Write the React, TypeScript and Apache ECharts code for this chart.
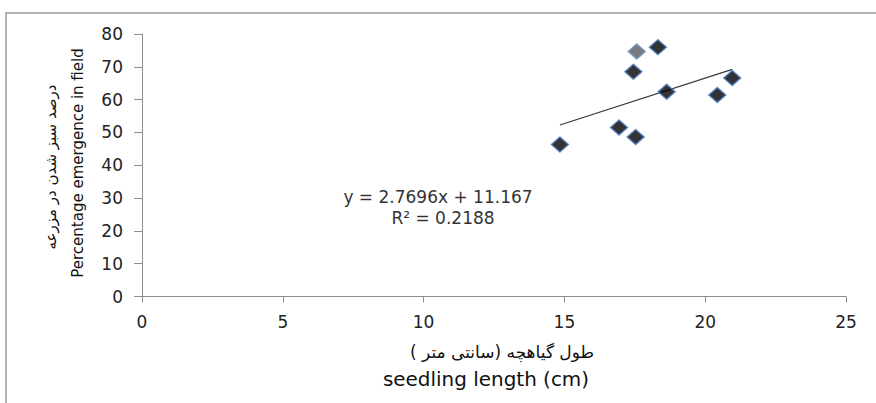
import React, { useEffect, useRef } from "react";
import * as echarts from "echarts";

const seedlingLength = [14.84, 16.94, 17.53, 17.45, 17.57, 18.32, 18.63, 20.43, 20.96];
const emergence = [46.3, 51.5, 48.6, 68.5, 74.7, 76.0, 62.4, 61.4, 66.6];
const greyPointIndex = [4];
const trendSlope = 2.7696;
const trendIntercept = 11.167;
const rSquared = 0.2188;
const xTicks = [0, 5, 10, 15, 20, 25];
const yTicks = [0, 10, 20, 30, 40, 50, 60, 70, 80];

const xTitleFa = "طول گیاهچه (سانتی متر )";
const xTitleEn = "seedling length (cm)";
const yTitleFa = "درصد سبز شدن در مزرعه";
const yTitleEn = "Percentage emergence in field";

export default function App() {
  const ref = useRef<HTMLDivElement>(null);
  useEffect(() => {
    if (!ref.current) return;
    const chart = echarts.init(ref.current, null, { renderer: "svg" });
    const xMin = Math.min(...seedlingLength);
    const xMax = Math.max(...seedlingLength);
    const font = "DejaVu Sans";
    const option: any = {
      animation: false,
      backgroundColor: "#ffffff",
      grid: { left: 142, right: 30, top: 34, bottom: 106.5 },
      xAxis: {
        type: "value",
        min: xTicks[0],
        max: xTicks[xTicks.length - 1],
        interval: 5,
        splitLine: { show: false },
        axisLine: { show: true, onZero: false, lineStyle: { color: "#8c8c8c", width: 1 } },
        axisTick: { show: true, length: 6, lineStyle: { color: "#8c8c8c" } },
        axisLabel: { color: "#222", fontFamily: font, fontSize: 17, margin: 17 },
      },
      yAxis: {
        type: "value",
        min: yTicks[0],
        max: yTicks[yTicks.length - 1],
        interval: 10,
        splitLine: { show: false },
        axisLine: { show: true, onZero: false, lineStyle: { color: "#8c8c8c", width: 1 } },
        axisTick: { show: true, length: 8, lineStyle: { color: "#8c8c8c" } },
        axisLabel: { color: "#222", fontFamily: font, fontSize: 17, margin: 19 },
      },
      series: [
        {
          type: "line",
          data: [
            [xMin, trendSlope * xMin + trendIntercept],
            [xMax, trendSlope * xMax + trendIntercept],
          ],
          showSymbol: false,
          symbol: "none",
          lineStyle: { color: "#3a3a3a", width: 1.3 },
          z: 2,
        },
        {
          type: "scatter",
          symbol: "diamond",
          symbolSize: [17, 15],
          data: seedlingLength.map((x, i) => ({
            value: [x, emergence[i]],
            itemStyle: greyPointIndex.includes(i)
              ? { color: "#5a5a5a", borderColor: "#6a8fc8", borderWidth: 1.5 }
              : undefined,
          })),
          itemStyle: { color: "#000000", borderColor: "#4a7cc4", borderWidth: 1.5 },
          z: 3,
        },
      ],
      graphic: [
        {
          type: "rect",
          shape: { x: 6, y: 13, width: 900, height: 500 },
          style: { fill: "none", stroke: "#9a9a9a", lineWidth: 1.5 },
          silent: true,
        },
        {
          type: "text",
          x: 438,
          y: 197,
          style: {
            text: `y = ${trendSlope}x + ${trendIntercept}`,
            fontFamily: font,
            fontSize: 17,
            fill: "#333",
            align: "center",
            verticalAlign: "middle",
          },
        },
        {
          type: "text",
          x: 443,
          y: 218,
          style: {
            text: `R² = ${rSquared}`,
            fontFamily: font,
            fontSize: 17,
            fill: "#333",
            align: "center",
            verticalAlign: "middle",
          },
        },
        {
          type: "text",
          x: 502,
          y: 352,
          style: {
            text: xTitleFa,
            fontFamily: font,
            fontSize: 17,
            fill: "#111",
            align: "center",
            verticalAlign: "middle",
          },
        },
        {
          type: "text",
          x: 486,
          y: 380,
          scaleX: 1.05,
          style: {
            text: xTitleEn,
            fontFamily: font,
            fontSize: 19,
            fill: "#111",
            align: "center",
            verticalAlign: "middle",
          },
        },
        {
          type: "text",
          x: 51,
          y: 167,
          rotation: Math.PI / 2,
          style: {
            text: yTitleFa,
            fontFamily: font,
            fontSize: 15,
            fill: "#111",
            align: "center",
            verticalAlign: "middle",
          },
        },
        {
          type: "text",
          x: 78,
          y: 163,
          rotation: Math.PI / 2,
          style: {
            text: yTitleEn,
            fontFamily: font,
            fontSize: 15,
            fill: "#111",
            align: "center",
            verticalAlign: "middle",
          },
        },
      ],
    };
    chart.setOption(option);
    return () => chart.dispose();
  }, []);
  return (
    <div
      ref={ref}
      style={{ position: "fixed", left: 0, top: 0, width: 876, height: 403 }}
    />
  );
}
